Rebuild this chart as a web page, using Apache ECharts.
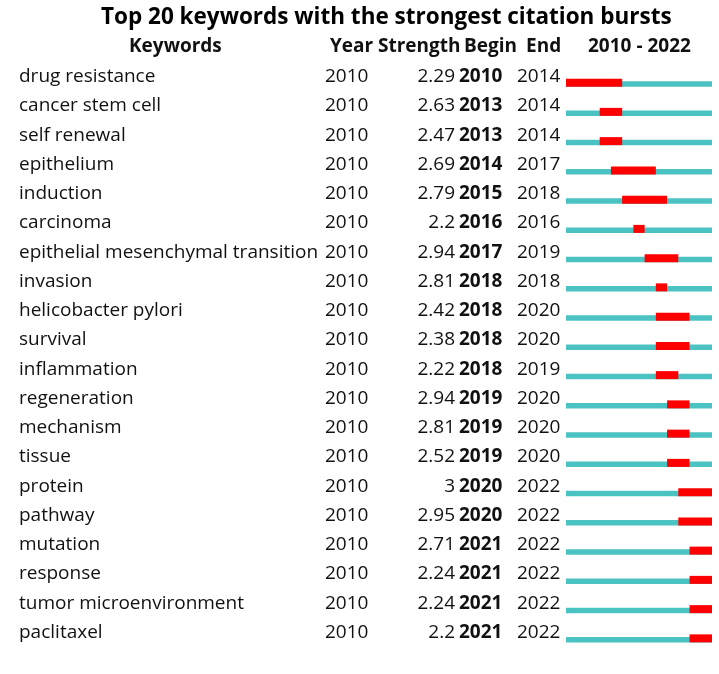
<!DOCTYPE html>
<html>
<head>
<meta charset="utf-8">
<script src="https://cdn.jsdelivr.net/npm/echarts@6/dist/echarts.min.js"></script>
<style>
html, body { margin: 0; padding: 0; background: #fff; }
#container { width: 719px; height: 674px; }
</style>
</head>
<body>
<div id="container"></div>
<script>
var keywords = ['drug resistance', 'cancer stem cell', 'self renewal', 'epithelium', 'induction',
    'carcinoma', 'epithelial mesenchymal transition', 'invasion', 'helicobacter pylori', 'survival',
    'inflammation', 'regeneration', 'mechanism', 'tissue', 'protein', 'pathway', 'mutation',
    'response', 'tumor microenvironment', 'paclitaxel'];
var years = [2010, 2010, 2010, 2010, 2010, 2010, 2010, 2010, 2010, 2010,
    2010, 2010, 2010, 2010, 2010, 2010, 2010, 2010, 2010, 2010];
var strengths = ['2.29', '2.63', '2.47', '2.69', '2.79', '2.2', '2.94', '2.81', '2.42', '2.38',
    '2.22', '2.94', '2.81', '2.52', '3', '2.95', '2.71', '2.24', '2.24', '2.2'];
var begins = [2010, 2013, 2013, 2014, 2015, 2016, 2017, 2018, 2018, 2018,
    2018, 2019, 2019, 2019, 2020, 2020, 2021, 2021, 2021, 2021];
var ends = [2014, 2014, 2014, 2017, 2018, 2016, 2019, 2018, 2020, 2020,
    2019, 2020, 2020, 2020, 2022, 2022, 2022, 2022, 2022, 2022];
var headers = ['Keywords', 'Year', 'Strength', 'Begin', 'End'];
var firstYear = 2010;
var lastYear = 2022;

var font = 'Open Sans';
var fs = 19;
var colRich = {
    kw: { width: 306, fontSize: fs, fontFamily: font, color: '#111' },
    yr: { width: 45, fontSize: fs, fontFamily: font, color: '#111' },
    sp: { width: 89, fontSize: fs, fontFamily: font },
    bg: { width: 58, fontSize: fs, fontFamily: font, fontWeight: 'bold', color: '#111' },
    en: { width: 45, fontSize: fs, fontFamily: font, color: '#111' }
};

function head(text, left) {
    return {
        text: text,
        left: left,
        top: 32,
        textStyle: { fontFamily: font, fontSize: fs, fontWeight: 'bold', color: '#111' }
    };
}

var rows = keywords.map(function (k, i) {
    return [i, begins[i], ends[i]];
});

var dom = document.getElementById('container');
var myChart = echarts.init(dom);
var option = {
    backgroundColor: '#fff',
    animation: false,
    title: [
        {
            text: 'Top 20 keywords with the strongest citation bursts',
            left: 96,
            top: 1,
            textStyle: { fontFamily: font, fontSize: 22.5, fontWeight: 'bold', color: '#000' }
        },
        head(headers[0], 124),
        head(headers[1], 325),
        head(headers[2], 373),
        head(headers[3], 459),
        head(headers[4], 521),
        head(firstYear + ' - ' + lastYear, 583)
    ],
    grid: { left: 566, right: 7, top: 62, bottom: 27 },
    xAxis: {
        type: 'value',
        min: firstYear,
        max: lastYear + 1,
        show: false
    },
    yAxis: [
        {
            type: 'category',
            inverse: true,
            data: keywords,
            axisLine: { show: false },
            axisTick: { show: false },
            axisLabel: {
                align: 'left',
                margin: 547,
                formatter: function (v, i) {
                    return '{kw|' + v + '}{yr|' + years[i] + '}{sp| }{bg|' +
                        begins[i] + '}{en|' + ends[i] + '}';
                },
                rich: colRich
            }
        },
        {
            type: 'category',
            inverse: true,
            position: 'left',
            offset: 109,
            data: strengths,
            axisLine: { show: false },
            axisTick: { show: false },
            axisLabel: { margin: 2, fontSize: fs, fontFamily: font, color: '#111' }
        }
    ],
    series: [{
        type: 'custom',
        renderItem: function (params, api) {
            var idx = api.value(0);
            var a = api.coord([firstYear, idx]);
            var b = api.coord([lastYear + 1, idx]);
            var s = api.coord([api.value(1), idx]);
            var e = api.coord([api.value(2) + 1, idx]);
            var cy = a[1];
            return {
                type: 'group',
                children: [
                    { type: 'rect', shape: { x: a[0], y: cy + 4.5, width: b[0] - a[0], height: 5.5 },
                      style: { fill: '#4CC3C3' } },
                    { type: 'rect', shape: { x: s[0], y: cy + 2, width: e[0] - s[0], height: 8 },
                      style: { fill: '#FF0000' } }
                ]
            };
        },
        encode: { x: [1, 2], y: 0 },
        data: rows
    }]
};
myChart.setOption(option);
</script>
</body>
</html>
